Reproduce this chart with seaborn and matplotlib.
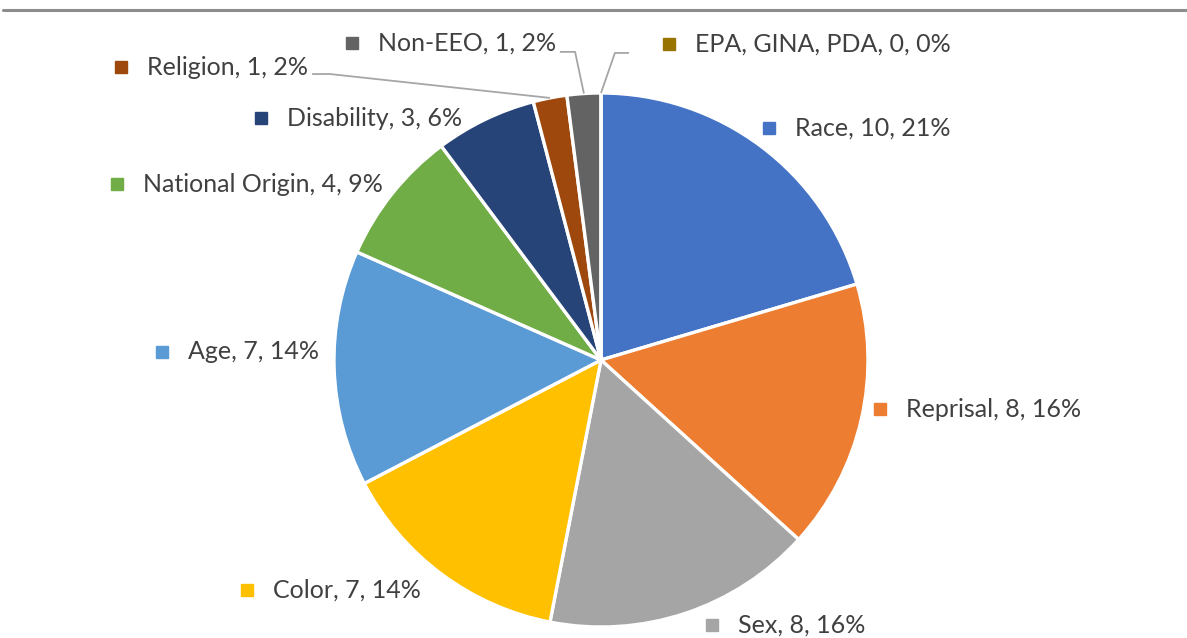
"""EEO complaint bases pie chart (Excel-style data labels with legend keys)."""

import matplotlib

matplotlib.use("Agg")
import matplotlib.pyplot as plt
import numpy as np
import seaborn as sns
from matplotlib.lines import Line2D

# ── data ──
bases = ["Race", "Reprisal", "Sex", "Color", "Age", "National Origin",
         "Disability", "Religion", "Non-EEO", "EPA, GINA, PDA"]
counts = [10, 8, 8, 7, 7, 4, 3, 1, 1, 0]
pct_labels = ["21%", "16%", "16%", "14%", "14%", "9%", "6%", "2%", "2%", "0%"]
slice_colors = ["#4472C4", "#ED7D31", "#A5A5A5", "#FFC000", "#5B9BD5",
                "#70AD47", "#264478", "#9E480E", "#636363", "#997300"]

# ── layout (label text left edge / centre y, in pie-radius units) ──
label_pos = [(0.727, 0.869), (1.142, -0.184), (0.513, -0.993), (-1.228, -0.861),
             (-1.547, 0.030), (-1.715, 0.659), (-1.176, 0.906), (-1.700, 1.097),
             (-0.835, 1.187), (0.352, 1.184)]
# leader lines for the thin slices: label end -> elbow -> wedge edge
leaders = {
    7: [(-1.082, 1.071), (-1.015, 1.071)],
    8: [(-0.154, 1.154), (-0.097, 1.154)],
    9: [(0.105, 1.150), (0.052, 1.150)],
}

W, H = 1187, 638
R_PX = 267
CX, CY = 601, 360
TEXT_COLOR = "#404040"

sns.set_theme(style="white")
plt.rcParams["font.family"] = ["Lato", "DejaVu Sans"]

fig = plt.figure(figsize=(W / 100, H / 100), dpi=100)
ax = fig.add_axes([0, 0, 1, 1])

wedges, _ = ax.pie(
    counts,
    colors=sns.color_palette(slice_colors),
    startangle=90,
    counterclock=False,
    radius=1.0,
    wedgeprops=dict(edgecolor="white", linewidth=2.4),
)

ax.set_xlim(-CX / R_PX, (W - CX) / R_PX)
ax.set_ylim((CY - H) / R_PX, CY / R_PX)
ax.set_aspect("equal", adjustable="box")
ax.axis("off")

for i, (name, n, pct) in enumerate(zip(bases, counts, pct_labels)):
    x, y = label_pos[i]
    ax.text(x, y, f"{name}, {n}, {pct}", ha="left", va="center",
            fontsize=18, color=TEXT_COLOR, clip_on=False)
    # legend key square in front of the label
    ax.plot(x - 0.097, y, marker="s", markersize=8.6, color=slice_colors[i],
            linestyle="none", clip_on=False)

    if i in leaders:
        w = wedges[i]
        mid = np.deg2rad((w.theta1 + w.theta2) / 2)
        pts = leaders[i] + [(np.cos(mid), np.sin(mid))]
        xs, ys = zip(*pts)
        ax.plot(xs, ys, color="#A6A6A6", linewidth=1.3, solid_capstyle="butt")

# top rule
fig.add_artist(Line2D([3 / W, 1], [1 - 10 / H, 1 - 10 / H], color="#8C8C8C",
                      linewidth=2.2, transform=fig.transFigure))

fig.savefig("out.png", dpi=100, facecolor="white")
